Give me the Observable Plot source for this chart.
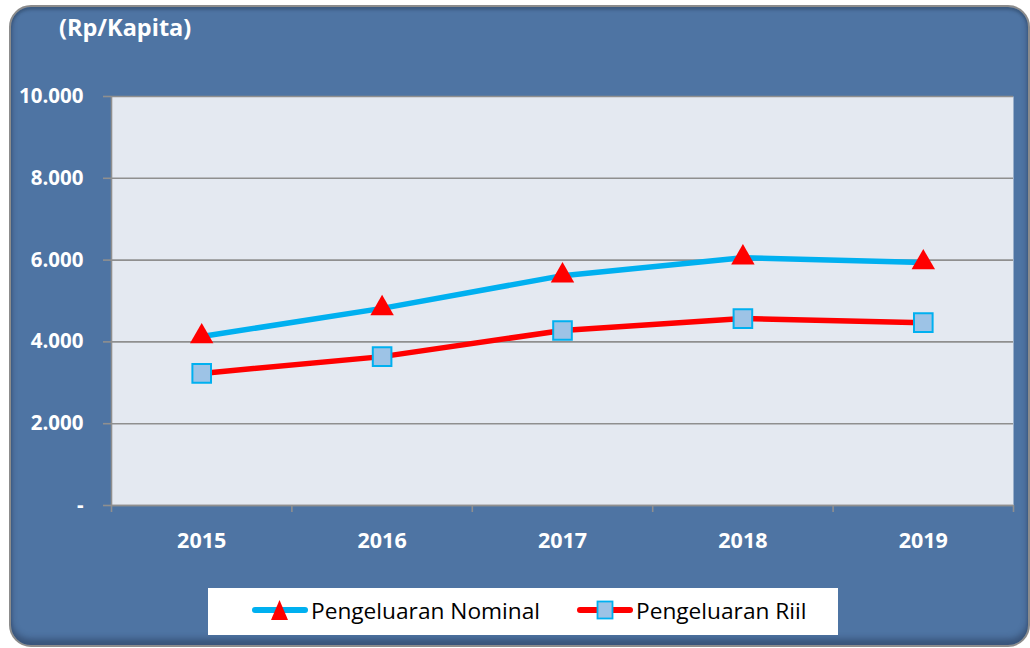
<!DOCTYPE html>
<html>
<head>
<meta charset="utf-8">
<script src="https://cdn.jsdelivr.net/npm/d3@7"></script>
<script src="https://cdn.jsdelivr.net/npm/@observablehq/plot@0.6"></script>
<style>
  html, body { margin: 0; padding: 0; background: #ffffff; overflow: hidden; }
  #wrap { position: relative; width: 1030px; height: 648px; font-family: "Open Sans", sans-serif; }
  #panel {
    position: absolute; left: 9px; top: 5px; width: 1017px; height: 638px;
    background: #4E74A3; border: 2px solid #8C8C8C; border-radius: 22px;
    box-shadow: inset 0 -6px 6px rgba(30,45,70,0.45), inset 0 3px 3px rgba(30,45,70,0.35);
  }
  #title { position: absolute; left: 59px; top: 11px; color: #fff; font-weight: bold; font-size: 23.5px; }
  #chart { position: absolute; left: 0; top: 0; }
  #legend {
    position: absolute; left: 208px; top: 588px; width: 630px; height: 47px; background: #fff;
    font-size: 22.7px; color: #000; font-family: "Open Sans", sans-serif;
  }
  .item { display: flex; align-items: center; position: absolute; top: 6px; }
  .item svg { display: block; }
</style>
</head>
<body>
<div id="wrap">
  <div id="panel"></div>
  <div id="title">(Rp/Kapita)</div>
  <div id="chart"></div>
  <div id="legend"></div>
</div>
<script>
const years = [2015, 2016, 2017, 2018, 2019];
const nominal = [4130, 4820, 5620, 6060, 5940];
const riil = [3230, 3640, 4280, 4570, 4470];
const yTicks = [0, 2000, 4000, 6000, 8000, 10000];
const seriesNames = ["Pengeluaran Nominal", "Pengeluaran Riil"];
const lineColors = ["#00B0F0", "#FF0000"];

const nomRows = years.map((y, i) => ({year: y, value: nominal[i]}));
const riilRows = years.map((y, i) => ({year: y, value: riil[i]}));
const bounds = [years[0] - 0.5, ...years.map(y => y + 0.5)];

const fmtY = d => d === 0 ? "-" : d3.format(",")(d).replace(/,/g, ".");

const chart = Plot.plot({
  width: 1030,
  height: 560,
  marginLeft: 111,
  marginRight: 17,
  marginTop: 96,
  marginBottom: 55,
  style: {background: "transparent", color: "#fff", fontFamily: "'Open Sans', sans-serif", overflow: "visible"},
  x: {domain: [bounds[0], bounds[bounds.length - 1]], label: null},
  y: {domain: [0, 10000], label: null},
  marks: [
    Plot.frame({fill: "#E4E9F1", stroke: null}),
    Plot.gridY(yTicks, {stroke: "#8F8F8F", strokeOpacity: 1, strokeWidth: 1.6}),
    Plot.ruleY([0], {stroke: "#8F8F8F", strokeWidth: 1.6}),
    Plot.ruleX([bounds[0]], {stroke: "#8F8F8F", strokeWidth: 1.6}),
    Plot.axisY(yTicks, {tickSize: 8, tickPadding: 20, tickFormat: fmtY, stroke: "#8F8F8F", strokeWidth: 1.6,
      fill: "#fff", fontSize: 20.5, fontWeight: "bold", label: null}),
    Plot.axisX(bounds, {tickSize: 7, tickFormat: () => "", stroke: "#8F8F8F", strokeWidth: 1.6, label: null}),
    Plot.axisX(years, {tickSize: 0, tickPadding: 27, tickFormat: d => String(d), fill: "#fff",
      fontSize: 21.5, fontWeight: "bold", label: null}),
    Plot.line(nomRows, {x: "year", y: "value", stroke: lineColors[0], strokeWidth: 5.5}),
    Plot.line(riilRows, {x: "year", y: "value", stroke: lineColors[1], strokeWidth: 5.5}),
    Plot.dot(nomRows, {x: "year", y: "value", symbol: "triangle", r: 8.7, fill: "#FF0000", stroke: null}),
    Plot.dot(riilRows, {x: "year", y: "value", symbol: "square", r: 10.5, fill: "#9DC3E6", stroke: "#00B0F0", strokeWidth: 2})
  ]
});
document.getElementById("chart").appendChild(chart);

// Legend
const legend = document.getElementById("legend");
const swatches = [
  `<svg width="56" height="32"><line x1="3" y1="16" x2="53" y2="16" stroke="${lineColors[0]}" stroke-width="6" stroke-linecap="round"/><path d="M27.5,6 L36,26 L19,26 Z" fill="#FF0000"/></svg>`,
  `<svg width="56" height="32"><line x1="3" y1="16" x2="53" y2="16" stroke="${lineColors[1]}" stroke-width="6" stroke-linecap="round"/><rect x="20.5" y="7.5" width="15" height="17" fill="#9DC3E6" stroke="#00B0F0" stroke-width="1.8"/></svg>`
];
const lefts = [44, 369];
seriesNames.forEach((name, i) => {
  const d = document.createElement("div");
  d.className = "item";
  d.style.left = lefts[i] + "px";
  d.innerHTML = swatches[i] + `<span style="margin-left:3px">${name}</span>`;
  legend.appendChild(d);
});
</script>
</body>
</html>
